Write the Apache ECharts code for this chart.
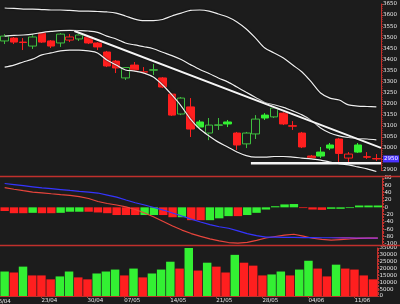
<!DOCTYPE html>
<html><head><meta charset="utf-8">
<script src="https://cdn.jsdelivr.net/npm/echarts@6/dist/echarts.min.js"></script>
<style>html,body{margin:0;padding:0;background:#1c1c1c;}#c{width:400px;height:304px;}</style>
</head><body><div id="c"></div>
<script>
const dates = ['17/04','18/04','19/04','20/04','23/04','24/04','25/04','26/04','27/04','30/04','02/05','03/05','04/05','07/05','08/05','09/05','10/05','11/05','14/05','15/05','16/05','17/05','18/05','21/05','22/05','23/05','24/05','25/05','28/05','29/05','30/05','31/05','01/06','04/06','05/06','06/06','07/06','08/06','11/06','12/06','13/06'];
const weekLabels = ['23/04','30/04','07/05','14/05','21/05','28/05','04/06','11/06'];
const firstLabel = '16/04';
// [open, close, low, high]
const ohlc = [
[3483,3505,3469,3514],[3496,3478,3469,3501],[3478,3476,3442,3496],[3460,3501,3447,3514],
[3519,3478,3474,3523],[3483,3460,3451,3487],[3474,3514,3456,3519],[3487,3501,3478,3514],
[3492,3510,3483,3519],[3501,3474,3469,3505],[3474,3456,3442,3478],[3433,3370,3365,3438],
[3392,3361,3338,3397],[3316,3363,3307,3365],[3374,3352,3347,3388],[3344,3342,3334,3365],
[3351,3353,3329,3379],[3316,3275,3270,3320],[3243,3148,3144,3248],[3153,3225,3148,3230],
[3185,3085,3049,3225],[3117,3094,3085,3126],[3067,3103,3035,3135],[3102,3104,3081,3135],
[3117,3108,3094,3126],[3067,3013,2990,3072],[3018,3067,2999,3072],[3063,3130,3040,3148],
[3148,3135,3126,3157],[3140,3180,3135,3189],[3157,3108,3103,3162],[3100,3098,3081,3121],
[3067,3004,2999,3072],[2963,2954,2950,2968],[2981,2963,2954,3004],[3013,2999,2990,3022],
[3040,2975,2936,3045],[2954,2972,2932,2981],[3013,2981,2977,3022],[2960,2958,2950,2981],
[2952,2950,2941,2972]];
const bollUpper = [3632,3630,3627,3627,3625,3623,3623,3621,3618,3618,3616,3614,3609,3596,3582,3575,3575,3580,3596,3609,3621,3623,3618,3605,3591,3569,3537,3496,3451,3429,3406,3374,3343,3298,3248,3225,3216,3194,3189,3187,3185];
const bollMid = [3505,3508,3510,3514,3521,3526,3530,3531,3530,3528,3522,3505,3492,3474,3465,3457,3448,3432,3417,3399,3376,3354,3336,3316,3298,3275,3251,3228,3205,3195,3183,3167,3149,3124,3090,3067,3054,3047,3042,3040,3036];
const bollLower = [3365,3374,3388,3401,3420,3429,3438,3442,3442,3438,3429,3397,3374,3352,3347,3338,3320,3284,3239,3189,3130,3085,3054,3026,3004,2981,2965,2958,2958,2961,2961,2958,2954,2950,2945,2936,2929,2923,2914,2905,2893];
// trend lines: [bar position, price]
const trendLine = [[7.5,3528],[40.5,3000]];
const supportLine = [[26.5,2931],[40.5,2931]];
const dif = [53.5,49.4,45.5,41.7,39.5,37,34.6,32.7,29.2,24,16,10.4,6.3,1.4,-6,-15.5,-26.5,-38.5,-51,-62,-71.5,-79,-86,-91.6,-96,-97.4,-95.5,-90,-83.7,-79.6,-76,-73.4,-78.3,-84.3,-87.3,-89.2,-87.8,-86.4,-84.8,-83.7,-83.7];
const dea = [65,62,59,56,53,51,48.5,46,43.6,41.7,39,33.5,28,20,12.5,6.3,-0.5,-7.4,-15.5,-23.7,-32,-40,-47,-53,-57,-64,-71.5,-77,-81,-81.5,-82,-82,-82.5,-82.5,-83,-83,-83.5,-83.5,-84,-84,-84];
const macdHist = [-10,-16,-16,-15,-16,-16,-15,-12,-12,-12,-14,-16,-21,-21,-21,-21,-21,-21,-27,-27,-35,-35,-35,-30,-24,-24,-21,-15,-6,3,8,9,-2,-6,-7,-4,-4,-2,5,5,5];
const macdDir = [-1,-1,-1,1,-1,-1,1,1,1,-1,-1,-1,-1,-1,-1,1,1,-1,-1,1,-1,-1,1,1,1,-1,1,1,1,1,1,1,-1,-1,-1,1,1,1,1,1,1];
const volume = [17850,17140,21420,15000,15000,12140,14280,17850,13570,12140,16420,17850,19280,15000,20000,13570,16420,19280,25000,20000,35000,18560,24280,21420,17140,30000,24280,22140,15000,15710,17850,15000,19280,25700,20000,14280,22850,20000,19280,15000,12140];
const volDir = [1,-1,1,-1,-1,-1,1,1,-1,-1,1,1,1,-1,1,-1,1,1,1,-1,1,-1,1,-1,-1,1,-1,-1,-1,1,1,-1,1,1,-1,-1,1,-1,-1,-1,-1];

const BG = '#1c1c1c', RED = '#ff1f1f', GREEN = '#33f033', GREEN_H = '#3fbf3f', AX = '#c0302c', TXT = '#e6e6e6';
const candleData = ohlc.map((d, i) => {
  const prev = i ? ohlc[i-1][1] : d[0] - 1;
  const up = d[1] >= prev, hollow = d[1] > d[0];
  const col = up ? (hollow ? GREEN_H : GREEN) : RED;
  const fill = hollow ? BG : col;
  return {value: d, itemStyle: {color: fill, color0: fill, borderColor: col, borderColor0: col}};
});
const lastClose = ohlc[ohlc.length-1][1];

const yLab = {color: TXT, fontSize: 5.5, margin: 2, fontFamily: 'DejaVu Sans', formatter: v => String(v)};
const yCommon = {position: 'right', splitLine: {show: false},
  axisLine: {show: true, onZero: false, lineStyle: {color: AX, width: 1}},
  axisTick: {show: true, length: 2, lineStyle: {color: AX}},
  minorTick: {show: true, splitNumber: 5, length: 1.5, lineStyle: {color: AX}},
  axisLabel: yLab};
const bandLine = (data) => ({type: 'line', data, xAxisIndex: 0, yAxisIndex: 0, symbol: 'none', smooth: 0.3, clip: false, z: 5,
  lineStyle: {color: '#eeeeee', width: 1.2, shadowColor: 'rgba(0,0,0,0.9)', shadowBlur: 2}});
const showWeek = (idx, val) => weekLabels.includes(val);

const chart = echarts.init(document.getElementById('c'), null, {renderer: 'canvas'});
chart.setOption({
  animation: false,
  backgroundColor: BG,
  grid: [
    {left: 0, right: 16, top: 4, height: 166},
    {left: 0, right: 16, top: 178, height: 66},
    {left: 0, right: 16, top: 248, height: 49}
  ],
  xAxis: [
    {type: 'category', gridIndex: 0, data: dates, axisLine: {show: false}, axisTick: {show: false}, axisLabel: {show: false}},
    {type: 'category', gridIndex: 1, data: dates, axisLine: {show: false}, axisTick: {show: false}, axisLabel: {show: false}},
    {type: 'category', gridIndex: 2, data: dates, axisLine: {show: true, onZero: false, lineStyle: {color: AX, width: 1}},
      axisTick: {show: true, alignWithLabel: true, interval: showWeek, length: 2, lineStyle: {color: AX}},
      axisLabel: {interval: showWeek, align: 'left', color: TXT, fontSize: 5.5, margin: 2, fontFamily: 'DejaVu Sans'}},
    {type: 'value', gridIndex: 0, min: -0.5, max: 40.5, show: false}
  ],
  yAxis: [
    Object.assign({}, yCommon, {type: 'value', gridIndex: 0, min: 2900, max: 3650, interval: 50}),
    Object.assign({}, yCommon, {type: 'value', gridIndex: 1, min: -100, max: 80, interval: 20}),
    Object.assign({}, yCommon, {type: 'value', gridIndex: 2, min: 0, max: 35000, interval: 5000})
  ],
  graphic: [
    {type: 'line', shape: {x1: 0, y1: 176.5, x2: 400, y2: 176.5}, style: {stroke: AX, lineWidth: 1.5}, z: 10},
    {type: 'line', shape: {x1: 0, y1: 245.5, x2: 400, y2: 245.5}, style: {stroke: AX, lineWidth: 1.5}, z: 10},
    {type: 'text', x: -5, y: 299, style: {text: firstLabel, fill: TXT, fontSize: 5.5, fontFamily: 'DejaVu Sans'}}
  ],
  series: [
    {type: 'candlestick', xAxisIndex: 0, yAxisIndex: 0, data: candleData, barWidth: '86%', z: 3,
      itemStyle: {borderWidth: 1},
      markLine: {silent: true, symbol: 'none', z: 20, data: [{yAxis: lastClose}], lineStyle: {color: 'rgba(0,0,0,0)', width: 0},
        label: {show: true, position: 'end', distance: 2, formatter: String(lastClose), color: '#ffffff', fontSize: 5.5, fontFamily: 'DejaVu Sans',
          backgroundColor: '#4a32ff', padding: [1, 1, 0, 1]}}},
    bandLine(bollUpper), bandLine(bollMid), bandLine(bollLower),
    {type: 'line', xAxisIndex: 3, yAxisIndex: 0, data: trendLine, symbol: 'none', z: 6,
      lineStyle: {color: '#f4f4f4', width: 2, shadowColor: 'rgba(0,0,0,0.9)', shadowBlur: 2}},
    {type: 'line', xAxisIndex: 3, yAxisIndex: 0, data: supportLine, symbol: 'none', z: 6,
      lineStyle: {color: '#f4f4f4', width: 2.5}},
    {type: 'bar', xAxisIndex: 1, yAxisIndex: 1, barCategoryGap: '10%',
      data: macdHist.map((v, i) => ({value: v, itemStyle: {color: macdDir[i] > 0 ? GREEN : RED}}))},
    {type: 'line', xAxisIndex: 1, yAxisIndex: 1, data: dif, symbol: 'none', lineStyle: {color: '#e8453c', width: 1.2}},
    {type: 'line', xAxisIndex: 1, yAxisIndex: 1, data: dea, symbol: 'none',
      lineStyle: {width: 1.2, color: new echarts.graphic.LinearGradient(0, 0, 1, 0, [
        {offset: 0, color: '#3434ff'}, {offset: 0.86, color: '#3434ff'}, {offset: 0.9, color: '#a236e0'}, {offset: 1, color: '#a236e0'}])}},
    {type: 'bar', xAxisIndex: 2, yAxisIndex: 2, barCategoryGap: '8%',
      data: volume.map((v, i) => ({value: v, itemStyle: {color: volDir[i] > 0 ? GREEN : RED}}))}
  ]
});
</script></body></html>
